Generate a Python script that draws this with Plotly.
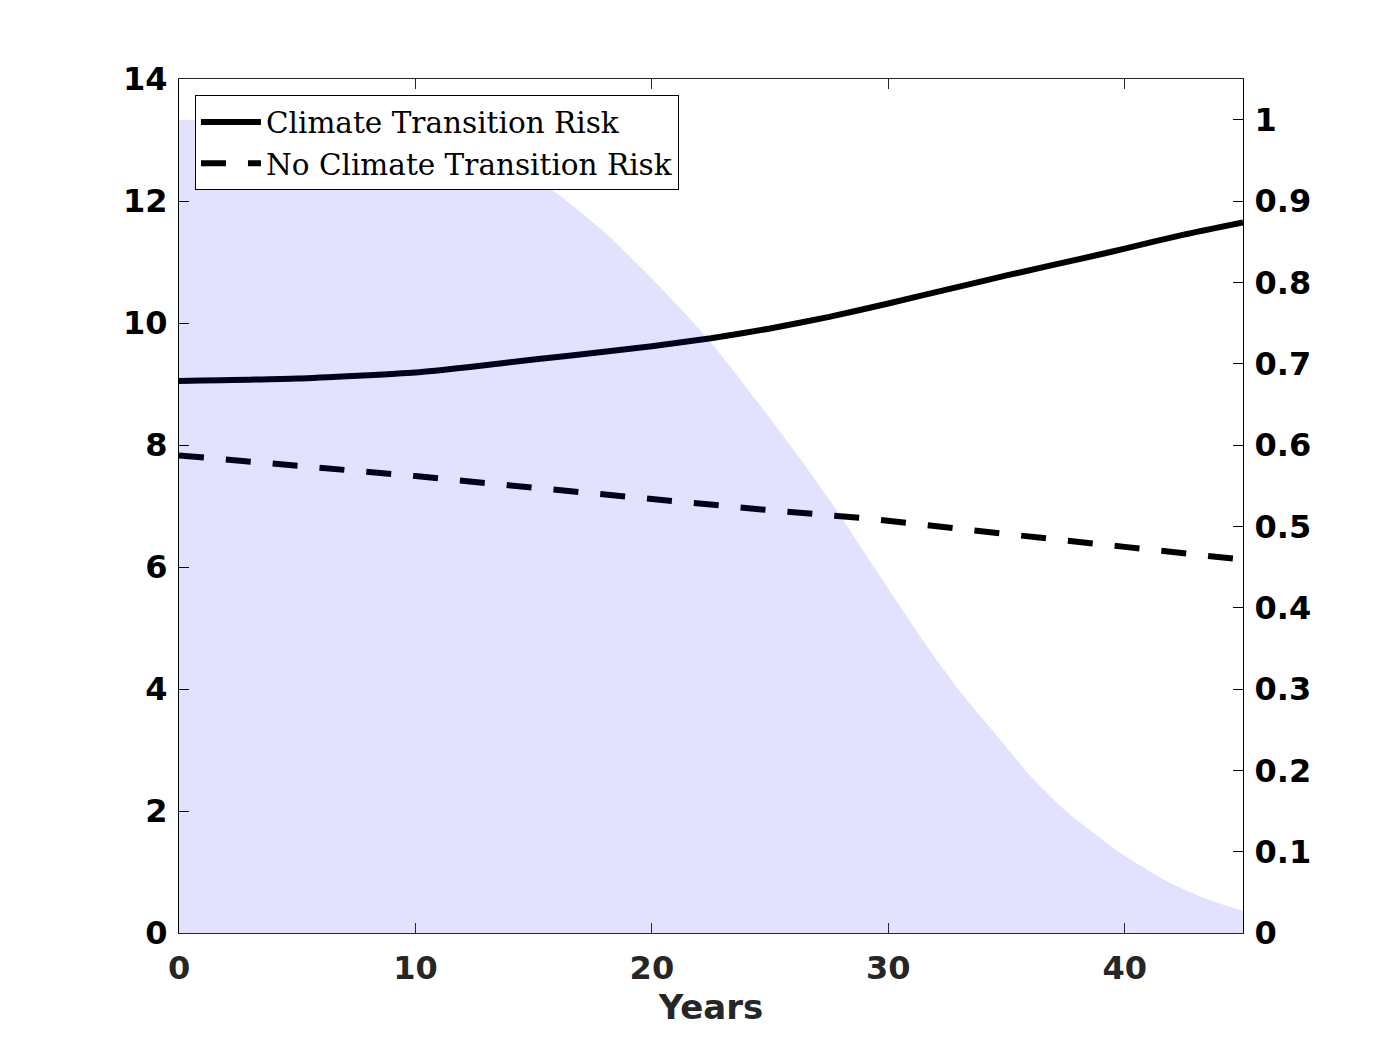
import plotly.graph_objects as go

# Climate Transition Risk (left axis)
ctr_years = [0, 5, 10, 12.3, 15, 17.8, 20, 22.5, 25, 27.5, 30, 32.6, 35, 38.8, 40, 42.5, 45]
ctr_values = [9.05, 9.09, 9.19, 9.28, 9.40, 9.52, 9.62, 9.75, 9.91, 10.10, 10.32, 10.56, 10.78,
              11.11, 11.22, 11.45, 11.65]

# No Climate Transition Risk (left axis)
nctr_years = [0, 5, 10, 15, 18.6, 20, 25, 29, 30, 33.5, 35, 40, 43.6, 45]
nctr_values = [7.83, 7.67, 7.49, 7.30, 7.16, 7.11, 6.93, 6.80, 6.76, 6.60, 6.54, 6.33, 6.17, 6.12]

# Shaded probability (right axis)
prob_years = [0, 2, 4, 6, 8, 10, 12, 14, 15.4, 17.8, 19.9, 22.3, 24.58, 26.0, 27.82, 28.81,
              30.22, 31.63, 33.04, 34.73, 36.14, 37.55, 38.96, 40.0, 41.77, 43.2, 45]
prob_values = [1.0, 1.0, 0.999, 0.997, 0.99, 0.98, 0.965, 0.945, 0.922, 0.867, 0.808, 0.733,
               0.649, 0.594, 0.520, 0.476, 0.414, 0.353, 0.297, 0.238, 0.189, 0.149, 0.117,
               0.095, 0.064, 0.045, 0.027]

x_ticks = [0, 10, 20, 30, 40]
y_ticks = [0, 2, 4, 6, 8, 10, 12, 14]
y2_ticks = [0, 0.1, 0.2, 0.3, 0.4, 0.5, 0.6, 0.7, 0.8, 0.9, 1]
y2_labels = ["0", "0.1", "0.2", "0.3", "0.4", "0.5", "0.6", "0.7", "0.8", "0.9", "1"]

fig = go.Figure()
fig.add_trace(go.Scatter(x=ctr_years, y=ctr_values, mode="lines", name="Climate Transition Risk",
                         line=dict(color="black", width=6, shape="spline", smoothing=0.5)))
fig.add_trace(go.Scatter(x=nctr_years, y=nctr_values, mode="lines", name="No Climate Transition Risk",
                         line=dict(color="black", width=6, dash="25px,22px")))
fig.add_trace(go.Scatter(x=prob_years, y=prob_values, mode="lines", yaxis="y2", showlegend=False,
                         fill="tozeroy", fillcolor="rgba(0,0,255,0.115)",
                         line=dict(width=0, color="rgba(0,0,255,0)", shape="spline", smoothing=0.8)))

tickfont = dict(family="DejaVu Sans", size=32, color="black", weight="bold")
fig.update_layout(
    width=1375, height=1050,
    margin=dict(l=171, r=140, t=71, b=125),
    paper_bgcolor="white", plot_bgcolor="white",
    showlegend=True,
    legend=dict(x=0.015, y=0.981, xanchor="left", yanchor="top",
                bgcolor="white", bordercolor="black", borderwidth=1,
                font=dict(family="DejaVu Serif", size=29.5, color="black"),
                itemwidth=60, tracegroupgap=0),
    xaxis=dict(range=[0, 45], tickvals=x_ticks, ticks="inside", ticklen=10, tickwidth=1.3,
               tickcolor="#262626", showline=True, linecolor="#262626", linewidth=1.3,
               mirror="ticks", showgrid=False, zeroline=False,
               tickfont=dict(family="DejaVu Sans", size=32, color="#262626", weight="bold"),
               ticklabelstandoff=6,
               title=dict(text="Years", font=dict(family="DejaVu Sans", size=34, color="#262626",
                                                  weight="bold"),
                          standoff=6)),
    yaxis=dict(range=[0, 14], tickvals=y_ticks, ticks="inside", ticklen=10, tickwidth=1.3,
               tickcolor="black", showline=True, linecolor="black", linewidth=1.3,
               mirror=True, showgrid=False, zeroline=False, tickfont=tickfont,
               ticklabelstandoff=4),
    yaxis2=dict(range=[0, 1.0504], tickvals=y2_ticks, ticktext=y2_labels, overlaying="y", side="right",
                ticks="inside", ticklen=10, tickwidth=1.3, tickcolor="black",
                showline=True, linecolor="black", linewidth=1.3, showgrid=False, zeroline=False,
                tickfont=tickfont, ticklabelstandoff=4),
    font=dict(family="DejaVu Sans", color="black"),
)

fig.write_html("out.html")
